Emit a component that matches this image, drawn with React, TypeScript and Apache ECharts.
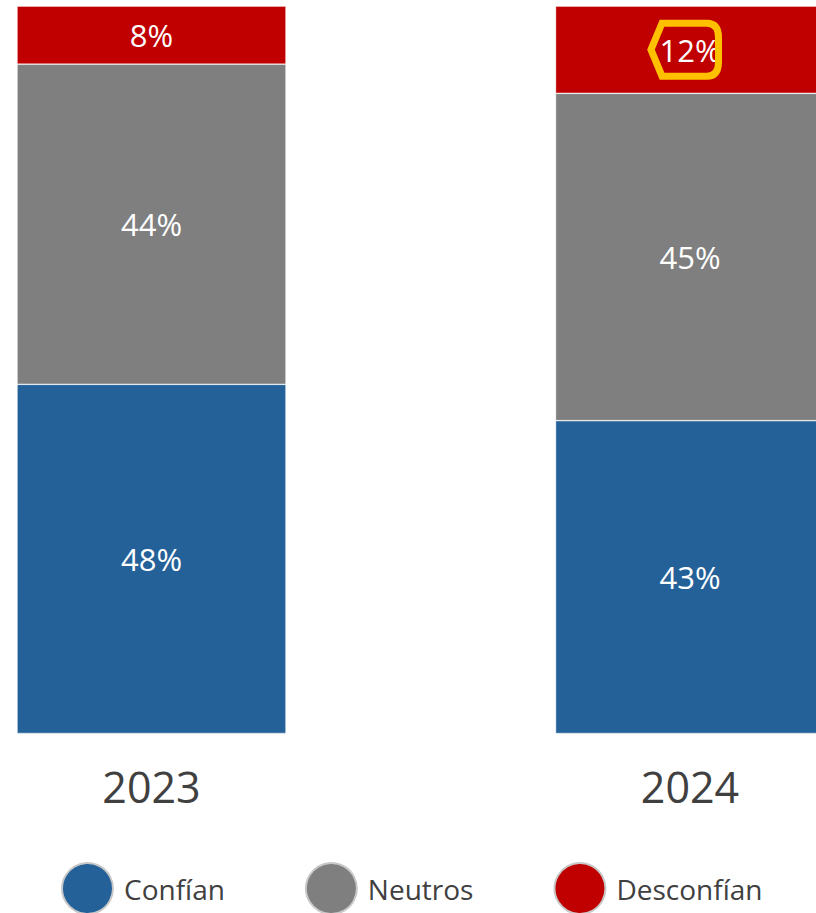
import React, { useEffect, useRef } from "react";
import * as echarts from "echarts";

const years = ["2023", "2024"];
const confian = [48, 43];
const neutros = [44, 45];
const desconfian = [8, 12];
const seriesNames = ["Confían", "Neutros", "Desconfían"];
const seriesColors = ["#256199", "#7F7F7F", "#C00000"];
const highlightIndex = 1; // 2024 Desconfían label

const HL_PATH =
  "M -39 0 L -28 -26.5 L 17 -26.5 Q 28.5 -26.5 28.5 -12 L 28.5 12 Q 28.5 26.5 17 26.5 L -28 26.5 Z";

let registered = false;

export default function App() {
  const ref = useRef<HTMLDivElement>(null);
  useEffect(() => {
    if (!registered) {
      echarts.graphic.registerShape("hlshape", echarts.graphic.extendPath(HL_PATH, {}) as any);
      registered = true;
    }
    const chart = echarts.init(ref.current!, undefined, { renderer: "svg" });
    const font = "'Open Sans', sans-serif";
    const dataSets = [confian, neutros, desconfian];
    chart.setOption({
      animation: false,
      textStyle: { fontFamily: font },
      grid: { left: 151.5, right: 126, top: 6, bottom: 179.5 },
      xAxis: {
        type: "category",
        data: years,
        boundaryGap: false,
        axisLine: { show: false },
        axisTick: { show: false },
        splitLine: { show: false },
        axisLabel: {
          color: "#404040",
          fontSize: 43,
          fontFamily: font,
          margin: 31,
          lineHeight: 43,
        },
      },
      yAxis: { type: "value", min: 0, max: 100, show: false },
      legend: {
        left: 61,
        top: 862,
        padding: 0,
        icon: "circle",
        itemWidth: 51,
        itemHeight: 51,
        itemGap: 80,
        itemStyle: { borderColor: "#C8C8C8", borderWidth: 2 },
        textStyle: { color: "#404040", fontSize: 28, fontFamily: font, padding: [0, 0, 0, 6] },
        data: seriesNames,
      },
      series: dataSets.map((d, i) => ({
        name: seriesNames[i],
        type: "bar",
        stack: "total",
        barWidth: 269,
        clip: false,
        data: d,
        itemStyle: { color: seriesColors[i], borderColor: "rgba(255,255,255,0.5)", borderWidth: 0.75 },
        label: {
          show: true,
          position: "inside",
          color: "#FFFFFF",
          fontSize: 31,
          fontFamily: font,
          formatter: (p: any) => p.value + "%",
        },
      })),
    });
    const yVal = confian[highlightIndex] + neutros[highlightIndex] + desconfian[highlightIndex] / 2;
    const pt = chart.convertToPixel({ gridIndex: 0 }, [highlightIndex, yVal]) as number[];
    chart.setOption({
      graphic: [
        {
          type: "hlshape",
          x: pt[0],
          y: pt[1],
          z: 100,
          style: { fill: "none", stroke: "#FFC000", lineWidth: 7 },
        },
      ],
    });
    return () => chart.dispose();
  }, []);
  return (
    <div
      ref={ref}
      style={{ position: "absolute", left: 0, top: 0, width: 816, height: 913 }}
    />
  );
}
